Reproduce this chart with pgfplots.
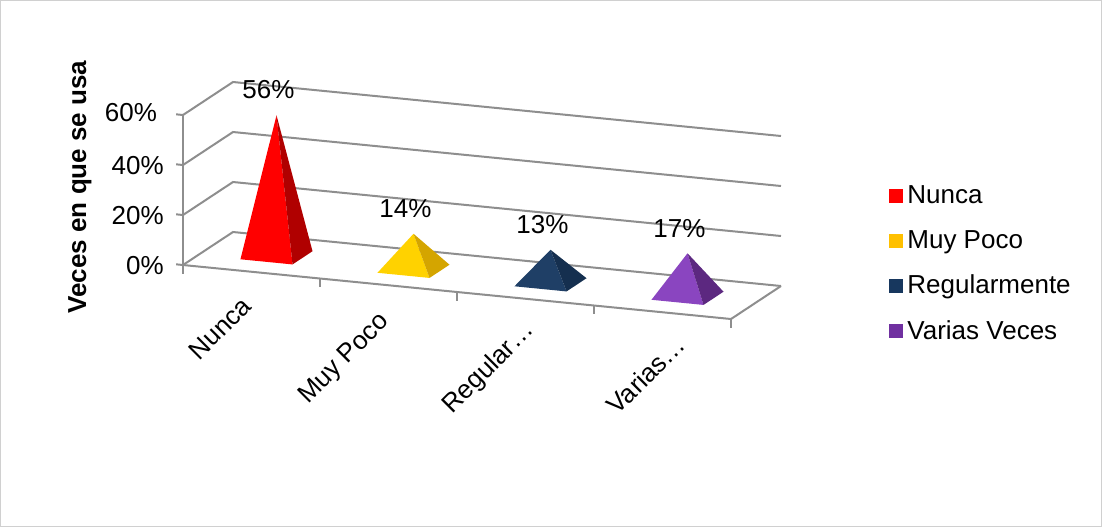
\documentclass[border=0pt]{standalone}
\usepackage{fontspec}
\setmainfont{Liberation Sans}
\usepackage{pgfplots}
\pgfplotsset{compat=1.18}
\usetikzlibrary{calc}
\definecolor{gridc}{HTML}{8E8E8E}
\definecolor{framec}{HTML}{D0D0D0}
\definecolor{redF}{HTML}{FF0000}
\definecolor{redS}{HTML}{B00000}
\definecolor{yelF}{HTML}{FFD200}
\definecolor{yelS}{HTML}{D4A500}
\definecolor{navF}{HTML}{1F3F66}
\definecolor{navS}{HTML}{152F4F}
\definecolor{purF}{HTML}{8A45C0}
\definecolor{purS}{HTML}{5C2880}
\definecolor{legR}{HTML}{FF0000}
\definecolor{legY}{HTML}{FFC000}
\definecolor{legN}{HTML}{17375E}
\definecolor{legP}{HTML}{7030A0}
\begin{document}
\begin{tikzpicture}[font=\fontsize{13}{15.6}\selectfont]
\begin{axis}[
  x={(68.5pt,-6.75pt)}, y={(25pt,16.5pt)}, z={(0pt,1.25pt)},
  xmin=0, xmax=4, ymin=0, ymax=1, zmin=0, zmax=60,
  hide axis, clip=false,
  /pgf/number format/assume math mode=true,
  grid line/.style={gridc, line width=1pt, forget plot},
  legend image code/.code={\fill[#1, draw=none] (0pt,-3.5pt) rectangle (7pt,3.5pt);},
  legend style={at={(axis cs:4,0,0)}, anchor=west, xshift=76pt, yshift=27.5pt,
    draw=none, fill=none, row sep=7.8pt, font=\fontsize{13}{15.6}\selectfont,
    cells={anchor=west}},
]
% walls
\addplot3[grid line] coordinates {(0,0,0) (0,1,0) (4,1,0)};
\addplot3[grid line] coordinates {(0,0,20) (0,1,20) (4,1,20)};
\addplot3[grid line] coordinates {(0,0,40) (0,1,40) (4,1,40)};
\addplot3[grid line] coordinates {(0,0,60) (0,1,60) (4,1,60)};
% front vertical axis and floor
\addplot3[grid line] coordinates {(0,0,0) (0,0,60)};
\addplot3[grid line] coordinates {(0,0,0) (4,0,0) (4,1,0)};
% z ticks
\addplot3[grid line] coordinates {(-0.05,0,0) (0,0,0)};
\addplot3[grid line] coordinates {(-0.05,0,20) (0,0,20)};
\addplot3[grid line] coordinates {(-0.05,0,40) (0,0,40)};
\addplot3[grid line] coordinates {(-0.05,0,60) (0,0,60)};
% category ticks
\addplot3[grid line] coordinates {(0,0,0) (0,0,-3.5)};
\addplot3[grid line] coordinates {(1,0,0) (1,0,-3.5)};
\addplot3[grid line] coordinates {(2,0,0) (2,0,-3.5)};
\addplot3[grid line] coordinates {(3,0,0) (3,0,-3.5)};
\addplot3[grid line] coordinates {(4,0,0) (4,0,-3.5)};
% pyramids: front face and right face
\addplot3[fill=redF, draw=none, forget plot] coordinates {(0.31,0.3,0) (0.69,0.3,0) (0.5,0.5,56)};
\addplot3[fill=redS, draw=none, forget plot] coordinates {(0.69,0.3,0) (0.69,0.7,0) (0.5,0.5,56)};
\addplot3[fill=yelF, draw=none, forget plot] coordinates {(1.31,0.3,0) (1.69,0.3,0) (1.5,0.5,14)};
\addplot3[fill=yelS, draw=none, forget plot] coordinates {(1.69,0.3,0) (1.69,0.7,0) (1.5,0.5,14)};
\addplot3[fill=navF, draw=none, forget plot] coordinates {(2.31,0.3,0) (2.69,0.3,0) (2.5,0.5,13)};
\addplot3[fill=navS, draw=none, forget plot] coordinates {(2.69,0.3,0) (2.69,0.7,0) (2.5,0.5,13)};
\addplot3[fill=purF, draw=none, forget plot] coordinates {(3.31,0.3,0) (3.69,0.3,0) (3.5,0.5,17)};
\addplot3[fill=purS, draw=none, forget plot] coordinates {(3.69,0.3,0) (3.69,0.7,0) (3.5,0.5,17)};
% value labels
\addplot3[draw=none, mark=none, forget plot, point meta=z,
  nodes near coords={\pgfmathprintnumber{\pgfplotspointmeta}\%},
  every node near coord/.append style={anchor=south, yshift=4.5pt, xshift=-4pt, text=black,
    font=\fontsize{13}{15.6}\selectfont}]
  coordinates {(0.5,0.5,56) (1.5,0.5,14) (2.5,0.5,13) (3.5,0.5,17)};
% z labels
\node[anchor=east] at ($(axis cs:0,0,0)+(-9.5pt,0)$) {0\%};
\node[anchor=east] at ($(axis cs:0,0,20)+(-9.5pt,0)$) {20\%};
\node[anchor=east] at ($(axis cs:0,0,40)+(-9.5pt,0)$) {40\%};
\node[anchor=east] at ($(axis cs:0,0,60)+(-9.5pt,1pt)$) {60\%};
% category labels
\node[rotate=45, anchor=east] at ($(axis cs:0.5,0,0)+(0pt,-12.5pt)$) {Nunca};
\node[rotate=45, anchor=east] at ($(axis cs:1.5,0,0)+(1pt,-14pt)$) {Muy Poco};
\node[rotate=45, anchor=east] at ($(axis cs:2.5,0,0)+(5pt,-11.5pt)$) {Regular…};
\node[rotate=45, anchor=east] at ($(axis cs:3.5,0,0)+(11.5pt,-11.5pt)$) {Varias…};
% legend
\addlegendimage{fill=legR}\addlegendentry{Nunca}
\addlegendimage{fill=legY}\addlegendentry{Muy Poco}
\addlegendimage{fill=legN}\addlegendentry{Regularmente}
\addlegendimage{fill=legP}\addlegendentry{Varias Veces}
\coordinate (O) at (axis cs:0,0,0);
\end{axis}
\node[rotate=90, font=\bfseries\fontsize{13}{15.6}\selectfont] at ($(O)+(-51.5pt,39pt)$) {Veces en que se usa};
\pgfresetboundingbox
\path[use as bounding box] ($(O)+(-91.5pt,132.5pt)$) rectangle ($(O)+(459.5pt,-131pt)$);
\draw[framec, line width=0.6pt] ($(O)+(-91.2pt,132.2pt)$) rectangle ($(O)+(459.2pt,-130.7pt)$);
\end{tikzpicture}
\end{document}
